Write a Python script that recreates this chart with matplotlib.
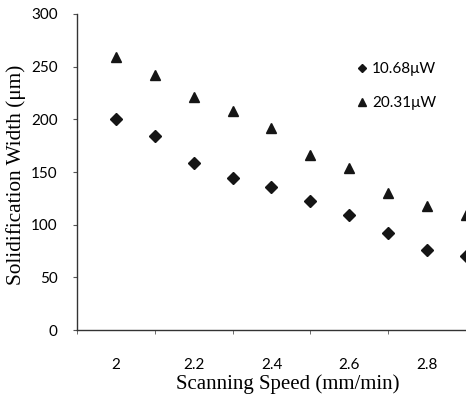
import matplotlib
matplotlib.use("Agg")
import matplotlib.pyplot as plt
import numpy as np

speed = [2.0, 2.1, 2.2, 2.3, 2.4, 2.5, 2.6, 2.7, 2.8, 2.9]
width_10_68 = [200, 184, 159, 144, 136, 122, 109, 92, 76, 70]
width_20_31 = [259, 242, 221, 208, 192, 166, 154, 130, 118, 109]
series_labels = ["10.68\u03bcW", "20.31\u03bcW"]
x_tick_values = [2.0, 2.2, 2.4, 2.6, 2.8]
x_tick_labels = ["2", "2.2", "2.4", "2.6", "2.8"]
y_tick_values = [0, 50, 100, 150, 200, 250, 300]

fig = plt.figure(figsize=(4.66, 3.98), dpi=100)
ax = fig.add_axes([77/466, 1 - 330/398, 1 - 77/466, (330 - 14)/398])

ax.plot(speed, width_10_68, linestyle="none", marker="D", markersize=6,
        color="#151515", clip_on=False, label=series_labels[0])
ax.plot(speed, width_20_31, linestyle="none", marker="^", markersize=7,
        color="#151515", clip_on=False, label=series_labels[1])

ax.set_xlim(1.9, 2.9)
ax.set_ylim(0, 300)
ax.set_xticks(x_tick_values)
ax.set_xticklabels(x_tick_labels, family="Lato", fontsize=11)
ax.set_xticks(np.arange(1.9, 2.95, 0.1), minor=True)
ax.set_yticks(y_tick_values)
ax.set_yticklabels([str(v) for v in y_tick_values], family="Lato", fontsize=11)
ax.tick_params(axis="x", which="major", length=0, pad=20)
ax.tick_params(axis="x", which="minor", length=3, direction="out", color="#555")
ax.tick_params(axis="y", length=3, direction="out", color="#555", pad=11)

for s in ["top", "right"]:
    ax.spines[s].set_visible(False)
for s in ["left", "bottom"]:
    ax.spines[s].set_color("#333333")
    ax.spines[s].set_linewidth(1.0)

ax.set_xlabel("Scanning Speed (mm/min)", family="Liberation Serif", fontsize=15)
ax.xaxis.set_label_coords((288 - 77) / 389, -(374 - 330) / 316)
ax.set_ylabel("Solidification Width (\u03bcm)", family="Liberation Serif", fontsize=15.3)
ax.yaxis.set_label_coords(-(77 - 26) / 389, (330 - 175) / 316)

leg = ax.legend(loc="upper left", bbox_to_anchor=((357 - 77) / 389, (330 - 62) / 316),
                frameon=False, prop={"family": "Lato", "size": 11},
                handlelength=0.6, handletextpad=0.4, labelspacing=1.3,
                markerscale=0.75, borderaxespad=0, borderpad=0)

fig.savefig("out.png", dpi=100)
